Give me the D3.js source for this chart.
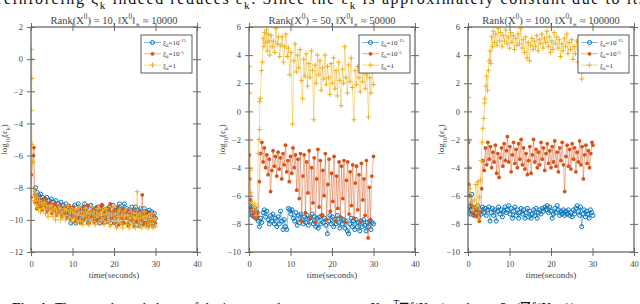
<!DOCTYPE html>
<html>
<head>
<meta charset="utf-8">
<script src="https://cdn.jsdelivr.net/npm/d3@7"></script>
<style>
  body { margin: 0; background: #fff; }
  svg { display: block; font-family: "Liberation Serif", "DejaVu Serif", serif; }
</style>
</head>
<body>
<svg id="chart" width="640" height="304"></svg>
<script>
// ---- data ----
const xTicks = [0, 10, 20, 30, 40];
const rankTitles = ['10', '50', '100'];
const normTitles = ['10000', '50000', '100000'];
const yDomains = [[-12, 2], [-10, 6], [-10, 6]];
const yTicksRank10 = [-12, -10, -8, -6, -4, -2, 0, 2];
const yTicksRank50 = [-10, -8, -6, -4, -2, 0, 2, 4, 6];
const legendLabels = [['10', '-15'], ['10', '-5'], ['1', null]];

// [time, log10(eps)]
const rank10Blue = [[1.1,-8.0],[1.3,-8.6],[1.5,-8.3],[1.7,-9.0],[1.9,-8.5],[2.1,-8.9],[2.3,-8.4],[2.6,-9.1],[2.8,-8.6],[3.0,-9.2],[3.3,-8.7],[3.5,-9.0],[3.8,-8.6],[4.0,-9.3],[4.3,-8.8],[4.6,-9.1],[4.9,-8.7],[5.1,-9.4],[5.4,-8.9],[5.7,-9.2],[6.0,-8.8],[6.3,-9.5],[6.6,-9.0],[6.9,-9.3],[7.2,-8.9],[7.5,-9.6],[7.8,-9.1],[8.1,-9.4],[8.4,-9.0],[8.7,-9.7],[9.0,-9.2],[9.3,-9.6],[9.6,-10.2],[9.9,-9.3],[10.2,-9.8],[10.5,-9.1],[10.8,-10.2],[11.1,-9.4],[11.4,-9.0],[11.7,-9.9],[12.0,-9.3],[12.3,-10.1],[12.6,-9.5],[12.9,-9.0],[13.2,-9.8],[13.5,-9.2],[13.8,-10.2],[14.1,-9.6],[14.4,-9.1],[14.7,-9.9],[15.0,-9.4],[15.3,-10.1],[15.6,-9.3],[15.9,-9.8],[16.2,-9.2],[16.5,-10.2],[16.8,-9.5],[17.1,-9.1],[17.4,-9.9],[17.7,-9.4],[18.0,-10.1],[18.3,-9.3],[18.6,-9.8],[18.9,-9.2],[19.2,-10.2],[19.5,-9.6],[19.8,-9.1],[20.1,-9.9],[20.4,-9.4],[20.7,-10.3],[21.0,-9.5],[21.3,-9.0],[21.6,-9.8],[21.9,-9.3],[22.2,-10.2],[22.5,-9.0],[22.8,-9.7],[23.1,-9.3],[23.4,-10.3],[23.7,-9.5],[24.0,-9.9],[24.3,-9.2],[24.6,-10.1],[24.9,-9.6],[25.2,-9.2],[25.5,-10.3],[25.8,-9.4],[26.1,-9.9],[26.4,-9.3],[26.7,-10.2],[27.0,-9.6],[27.3,-9.3],[27.6,-10.0],[27.9,-9.5],[28.2,-10.3],[28.5,-9.4],[28.8,-9.8],[29.1,-9.5],[29.4,-10.2],[29.7,-9.6],[30.0,-9.9]];
const rank10Orange = [[0.0,-8.6],[0.1,-7.2],[0.6,-6.0],[0.7,-5.5],[0.9,-8.4],[1.0,-8.9],[1.2,-8.5],[1.4,-9.3],[1.6,-8.7],[1.8,-9.0],[1.9,-8.6],[2.1,-9.2],[2.4,-8.8],[2.7,-9.4],[2.9,-8.9],[3.2,-9.1],[3.5,-8.7],[3.8,-9.5],[4.1,-9.0],[4.4,-9.3],[4.7,-8.9],[5.0,-9.6],[5.3,-9.1],[5.6,-9.4],[5.9,-9.0],[6.2,-9.7],[6.5,-9.2],[6.8,-9.5],[7.1,-9.1],[7.4,-9.8],[7.7,-9.3],[8.0,-9.6],[8.3,-9.2],[8.6,-9.9],[8.9,-9.4],[9.2,-9.1],[9.5,-10.0],[9.8,-9.4],[10.1,-9.8],[10.4,-9.2],[10.7,-10.1],[11.0,-9.5],[11.3,-9.9],[11.6,-9.3],[11.9,-10.2],[12.2,-9.6],[12.5,-9.2],[12.8,-10.0],[13.1,-9.4],[13.4,-9.9],[13.7,-9.1],[14.0,-10.2],[14.3,-9.5],[14.6,-9.8],[14.9,-9.3],[15.2,-10.1],[15.5,-9.6],[15.8,-9.2],[16.1,-10.0],[16.4,-9.4],[16.7,-9.9],[17.0,-9.1],[17.3,-10.2],[17.6,-9.5],[17.9,-9.8],[18.2,-9.3],[18.5,-10.1],[18.8,-9.4],[19.1,-9.0],[19.4,-9.9],[19.7,-9.5],[20.0,-10.2],[20.3,-9.4],[20.6,-9.8],[20.9,-9.2],[21.2,-10.3],[21.5,-9.6],[21.8,-9.9],[22.1,-9.3],[22.4,-10.2],[22.7,-9.5],[23.0,-9.9],[23.3,-9.4],[23.6,-10.3],[23.9,-9.6],[24.2,-10.0],[24.5,-9.4],[24.8,-10.4],[25.1,-9.7],[25.4,-10.1],[25.7,-9.5],[26.0,-10.4],[26.3,-9.7],[26.6,-10.0],[26.8,-8.45],[27.0,-10.3],[27.3,-9.6],[27.6,-10.2],[27.9,-9.5],[28.2,-10.4],[28.5,-9.7],[28.8,-10.1],[29.1,-9.6],[29.4,-10.4],[29.7,-9.8],[30.0,-10.2]];
const rank10Yellow = [[0.1,0.6],[0.15,0.0],[0.2,-1.2],[0.1,-3.2],[0.25,-5.3],[0.35,-6.4],[0.5,-6.4],[0.7,-8.2],[0.9,-8.8],[1.1,-8.4],[1.3,-9.1],[1.5,-8.6],[1.8,-9.3],[2.0,-8.8],[2.3,-9.5],[2.6,-9.0],[2.9,-9.3],[3.2,-8.9],[3.5,-9.6],[3.8,-9.1],[4.1,-9.8],[4.4,-9.2],[4.7,-9.5],[5.0,-9.1],[5.3,-9.8],[5.6,-9.3],[5.9,-10.0],[6.2,-9.4],[6.5,-9.7],[6.8,-9.2],[7.1,-10.0],[7.4,-9.5],[7.7,-9.8],[8.0,-9.3],[8.3,-10.0],[8.6,-9.4],[8.9,-9.1],[9.2,-9.9],[9.5,-9.4],[9.8,-10.1],[10.1,-9.5],[10.4,-9.9],[10.7,-9.3],[11.0,-10.2],[11.3,-9.6],[11.6,-9.2],[11.9,-10.1],[12.2,-9.5],[12.5,-10.3],[12.8,-9.7],[13.1,-9.3],[13.4,-10.0],[13.7,-9.5],[14.0,-10.3],[14.3,-9.6],[14.6,-9.2],[14.9,-10.1],[15.2,-9.5],[15.5,-10.3],[15.8,-9.7],[16.1,-9.3],[16.4,-10.2],[16.7,-9.6],[17.0,-10.0],[17.3,-9.4],[17.6,-10.3],[17.9,-9.7],[18.2,-9.3],[18.5,-10.1],[18.8,-9.6],[19.1,-10.4],[19.4,-9.7],[19.7,-9.2],[20.0,-10.1],[20.3,-9.6],[20.6,-10.5],[20.9,-9.8],[21.2,-9.4],[21.5,-10.2],[21.8,-9.7],[22.1,-10.5],[22.4,-9.8],[22.7,-9.4],[23.0,-10.3],[23.3,-9.7],[23.6,-10.5],[23.9,-9.9],[24.2,-9.5],[24.5,-10.3],[24.8,-9.8],[25.1,-10.5],[25.4,-9.6],[25.6,-8.25],[25.8,-9.9],[26.1,-10.4],[26.4,-9.7],[26.7,-10.5],[27.0,-9.9],[27.3,-9.5],[27.6,-10.4],[27.9,-9.8],[28.2,-10.5],[28.5,-9.7],[28.8,-10.2],[29.1,-9.6],[29.4,-10.5],[29.7,-9.9],[30.0,-10.4]];

const rank50Blue = [[0.0,-7.3],[0.2,-6.7],[0.4,-7.0],[0.6,-6.8],[0.8,-7.4],[1.0,-7.0],[1.2,-7.5],[1.4,-6.9],[1.6,-7.3],[1.8,-7.6],[2.0,-7.2],[2.2,-7.8],[2.5,-8.2],[2.8,-7.6],[3.1,-7.9],[3.4,-7.2],[3.7,-7.0],[4.0,-7.5],[4.3,-7.1],[4.6,-7.7],[4.9,-8.0],[5.2,-7.4],[5.5,-7.8],[5.8,-7.3],[6.1,-8.0],[6.4,-7.6],[6.7,-8.2],[7.0,-7.5],[7.3,-8.0],[7.6,-7.1],[7.9,-7.8],[8.2,-8.4],[8.5,-7.7],[8.8,-8.2],[9.1,-8.4],[9.5,-6.9],[9.8,-7.0],[10.1,-7.3],[10.4,-7.0],[10.7,-7.6],[11.0,-7.8],[11.3,-7.2],[11.6,-8.1],[11.9,-7.4],[12.2,-7.9],[12.5,-7.3],[12.8,-7.7],[13.1,-8.0],[13.4,-7.5],[13.7,-7.9],[14.0,-7.4],[14.3,-8.1],[14.6,-7.6],[14.9,-7.8],[15.2,-7.3],[15.5,-8.0],[15.8,-7.5],[16.1,-8.2],[16.4,-7.6],[16.7,-8.3],[17.0,-7.5],[17.3,-8.0],[17.6,-7.4],[17.9,-7.9],[18.2,-7.6],[18.5,-8.1],[18.9,-8.7],[19.2,-7.8],[19.5,-7.4],[19.8,-8.0],[20.1,-7.5],[20.4,-8.2],[20.7,-7.7],[21.0,-8.0],[21.3,-7.4],[21.6,-7.9],[21.9,-8.3],[22.2,-7.6],[22.5,-8.0],[22.8,-7.7],[23.1,-8.3],[23.4,-7.8],[23.7,-8.5],[24.0,-8.7],[24.3,-8.0],[24.6,-7.6],[24.9,-8.2],[25.2,-7.8],[25.5,-8.4],[25.8,-7.7],[26.1,-8.2],[26.4,-7.9],[26.7,-8.5],[27.0,-7.8],[27.3,-8.2],[27.6,-7.7],[27.9,-8.1],[28.2,-8.5],[28.5,-7.9],[28.8,-8.2],[29.1,-7.8],[29.4,-8.4],[29.7,-7.9],[30.0,-8.0]];
const rank50Orange = [[0.1,-3.1],[0.2,-4.8],[0.4,-6.3],[0.7,-7.0],[1.0,-7.4],[1.3,-7.0],[1.6,-7.6],[1.9,-7.2],[2.2,-7.5],[2.5,-5.0],[2.8,-3.0],[3.1,-2.2],[3.4,-3.6],[3.7,-2.6],[4.0,-4.0],[4.3,-3.1],[4.6,-4.5],[4.9,-3.4],[5.2,-5.7],[5.5,-4.2],[5.8,-2.8],[6.1,-3.9],[6.4,-3.2],[6.7,-4.6],[7.0,-2.9],[7.3,-4.1],[7.6,-3.3],[7.9,-4.8],[8.2,-3.0],[8.5,-3.8],[8.8,-2.4],[9.1,-4.3],[9.4,-3.5],[9.7,-5.0],[10.0,-3.2],[10.3,-4.4],[10.6,-2.6],[10.9,-4.0],[11.2,-3.1],[11.5,-5.6],[11.8,-3.4],[12.1,-6.2],[12.4,-3.0],[12.7,-7.8],[13.0,-4.6],[13.3,-3.1],[13.6,-7.2],[13.9,-3.6],[14.2,-5.8],[14.5,-2.8],[14.8,-7.6],[15.1,-4.0],[15.4,-6.5],[15.7,-3.3],[16.0,-7.9],[16.3,-4.8],[16.6,-2.7],[16.9,-6.8],[17.2,-3.5],[17.5,-7.4],[17.8,-4.2],[18.1,-6.0],[18.4,-3.0],[18.7,-7.7],[19.0,-5.2],[19.3,-3.4],[19.6,-7.1],[19.9,-4.4],[20.2,-6.4],[20.5,-3.2],[20.8,-7.8],[21.1,-4.6],[21.4,-6.9],[21.7,-3.6],[22.0,-7.5],[22.3,-3.9],[22.6,-6.2],[22.9,-3.5],[23.2,-7.9],[23.5,-4.9],[23.8,-3.6],[24.1,-7.3],[24.4,-4.3],[24.7,-6.7],[25.0,-3.8],[25.3,-7.6],[25.6,-5.1],[25.9,-3.9],[26.2,-7.0],[26.5,-4.5],[26.8,-7.9],[27.1,-3.7],[27.4,-6.3],[27.7,-4.8],[28.0,-7.4],[28.3,-3.5],[28.7,-9.0],[29.0,-5.4],[29.3,-7.7],[29.6,-4.6],[30.0,-3.2]];
const rank50Yellow = [[0.1,3.2],[0.15,1.3],[0.3,-4.2],[0.5,-5.8],[0.8,-6.5],[1.1,-7.0],[1.4,-6.6],[1.7,-7.4],[2.0,-6.8],[2.2,-3.0],[2.4,-2.0],[2.5,-1.3],[2.6,0.7],[2.7,0.9],[3.0,2.9],[3.2,3.5],[3.4,5.2],[3.6,4.6],[3.8,5.6],[4.0,4.9],[4.2,5.8],[4.4,4.3],[4.6,5.5],[4.8,5.0],[5.0,4.0],[5.3,5.4],[5.6,4.6],[5.9,5.0],[6.2,4.2],[6.5,5.9],[6.8,4.8],[7.1,5.3],[7.4,3.9],[7.7,4.7],[8.0,5.3],[8.3,3.5],[8.6,4.6],[8.9,5.5],[9.2,3.9],[9.5,4.5],[9.8,2.6],[10.1,4.2],[10.5,-0.9],[10.8,3.6],[11.1,4.8],[11.4,2.8],[11.7,4.0],[12.0,3.1],[12.3,4.4],[12.6,2.2],[12.9,0.9],[13.2,3.7],[13.5,2.5],[13.8,4.1],[14.1,1.8],[14.4,3.4],[14.7,2.4],[15.0,4.3],[15.3,2.9],[15.6,-0.6],[15.9,3.3],[16.2,2.0],[16.5,4.0],[16.8,2.6],[17.1,3.6],[17.4,1.5],[17.7,3.1],[18.0,2.3],[18.3,4.0],[18.6,1.9],[18.9,3.2],[19.2,2.4],[19.5,1.2],[19.8,3.4],[20.1,2.0],[20.4,3.8],[20.7,1.6],[21.0,2.9],[21.3,1.1],[21.6,3.5],[21.9,2.2],[22.2,0.4],[22.5,3.0],[22.8,2.0],[23.1,4.6],[23.4,2.4],[23.7,1.3],[24.0,3.3],[24.3,2.1],[24.6,3.8],[24.9,1.7],[25.3,-0.6],[25.6,2.9],[25.9,1.9],[26.2,3.2],[26.5,2.4],[26.8,1.4],[27.1,3.4],[27.4,2.1],[27.7,3.0],[28.0,1.6],[28.4,2.6],[28.8,-0.4],[29.1,2.4],[29.4,1.3],[29.7,2.8],[30.0,1.9]];

const rank100Blue = [[0.0,-6.9],[0.2,-7.2],[0.4,-6.8],[0.6,-7.3],[0.9,-5.9],[1.1,-6.8],[1.4,-7.4],[1.7,-6.9],[2.0,-7.2],[2.3,-6.7],[2.6,-7.5],[2.9,-7.0],[3.2,-7.3],[3.5,-6.8],[3.8,-7.2],[4.1,-6.9],[4.4,-7.4],[4.7,-7.0],[5.0,-6.8],[5.3,-7.8],[5.6,-7.2],[5.9,-6.9],[6.2,-7.4],[6.5,-7.0],[6.8,-7.8],[7.1,-7.1],[7.4,-6.8],[7.7,-7.3],[8.0,-7.0],[8.3,-7.5],[8.6,-7.1],[8.9,-6.8],[9.2,-7.2],[9.5,-7.0],[9.8,-6.7],[10.1,-7.3],[10.4,-6.9],[10.7,-7.6],[11.0,-7.1],[11.3,-6.8],[11.6,-7.4],[11.9,-7.0],[12.2,-7.6],[12.5,-7.2],[12.8,-6.9],[13.1,-7.3],[13.4,-7.0],[13.7,-7.6],[14.0,-7.2],[14.3,-6.9],[14.6,-7.5],[14.9,-7.1],[15.2,-7.6],[15.5,-7.3],[15.8,-7.0],[16.1,-7.4],[16.4,-6.9],[16.7,-7.6],[17.0,-7.2],[17.3,-7.0],[17.6,-7.3],[17.9,-6.9],[18.2,-7.1],[18.5,-6.8],[18.8,-7.0],[19.1,-6.7],[19.4,-7.2],[19.7,-6.8],[20.0,-7.1],[20.3,-7.6],[20.6,-7.3],[20.9,-6.9],[21.2,-7.2],[21.5,-6.7],[21.8,-7.0],[22.1,-7.4],[22.4,-7.1],[22.7,-7.3],[23.0,-7.0],[23.3,-7.4],[23.6,-7.1],[23.9,-7.3],[24.2,-7.0],[24.5,-7.4],[24.8,-7.2],[25.1,-7.5],[25.4,-7.0],[25.7,-7.3],[26.0,-6.9],[26.3,-6.7],[26.6,-7.1],[26.9,-7.4],[27.1,-6.8],[27.4,-8.2],[27.7,-7.3],[28.0,-7.0],[28.3,-7.5],[28.6,-7.1],[28.9,-7.3],[29.2,-7.6],[29.5,-7.0],[29.8,-7.2],[30.1,-7.4]];
const rank100Orange = [[0.1,-2.2],[0.15,-4.0],[0.2,-5.2],[0.4,-6.0],[0.7,-6.6],[1.0,-7.2],[1.3,-6.8],[1.6,-7.4],[1.9,-7.0],[2.2,-7.5],[2.5,-7.1],[2.7,-7.8],[3.0,-7.2],[3.3,-5.5],[3.6,-3.5],[3.9,-4.2],[4.2,-2.6],[4.5,-3.8],[4.8,-2.2],[5.1,-3.4],[5.4,-2.5],[5.7,-4.0],[6.0,-2.9],[6.3,-3.6],[6.6,-2.4],[6.9,-4.4],[7.2,-3.0],[7.5,-4.7],[7.8,-3.3],[8.1,-2.6],[8.4,-3.9],[8.7,-2.3],[9.0,-3.5],[9.3,-2.8],[9.5,-1.8],[9.8,-3.6],[10.1,-2.5],[10.4,-4.3],[10.7,-3.1],[11.0,-2.2],[11.3,-3.7],[11.6,-2.7],[11.9,-4.0],[12.2,-2.3],[12.5,-3.4],[12.8,-2.0],[13.1,-3.8],[13.4,-2.6],[13.7,-4.1],[14.0,-3.0],[14.3,-4.5],[14.6,-3.5],[14.9,-2.5],[15.2,-4.4],[15.5,-3.1],[15.8,-2.0],[16.1,-3.6],[16.4,-2.7],[16.7,-4.0],[17.0,-2.9],[17.3,-3.8],[17.6,-2.2],[17.9,-3.4],[18.2,-2.6],[18.5,-4.2],[18.8,-3.0],[19.1,-2.3],[19.4,-3.7],[19.7,-2.8],[20.0,-4.0],[20.3,-2.5],[20.6,-3.6],[20.9,-2.1],[21.2,-3.9],[21.5,-2.9],[21.8,-4.3],[22.1,-2.6],[22.4,-3.5],[22.7,-2.2],[23.0,-3.8],[23.3,-5.7],[23.6,-3.2],[23.9,-2.4],[24.2,-3.9],[24.5,-2.7],[24.8,-4.1],[25.1,-2.3],[25.4,-3.4],[25.7,-2.6],[26.0,-4.3],[26.3,-2.9],[26.6,-3.6],[26.9,-2.1],[27.2,-3.8],[27.5,-2.5],[27.8,-4.8],[28.1,-3.1],[28.4,-2.4],[28.7,-3.7],[29.0,-2.8],[29.3,-4.0],[29.6,-3.0],[29.9,-2.2],[30.1,-2.4]];
const rank100Yellow = [[0.1,3.8],[0.12,1.0],[0.15,-2.0],[0.2,-4.0],[0.5,-5.5],[0.8,-6.4],[1.2,-7.0],[1.6,-6.3],[1.9,-5.2],[2.1,-6.8],[2.4,-5.0],[2.6,-7.6],[2.8,-6.1],[3.0,-4.9],[3.2,-3.5],[3.4,-2.2],[3.6,-1.2],[3.8,-0.5],[4.0,0.6],[4.1,0.9],[4.3,1.8],[4.5,2.5],[4.7,1.5],[4.9,2.9],[5.1,3.6],[5.3,4.3],[5.5,3.4],[5.7,5.3],[5.9,4.6],[6.1,5.7],[6.4,4.9],[6.7,5.5],[7.0,4.7],[7.3,5.9],[7.6,5.0],[7.9,5.6],[8.2,4.6],[8.5,5.4],[8.8,5.0],[9.1,5.8],[9.4,4.8],[9.7,5.3],[10.0,4.5],[10.3,5.6],[10.6,4.9],[10.9,5.4],[11.2,4.4],[11.5,5.2],[11.8,4.7],[12.1,5.5],[12.4,4.8],[12.7,5.9],[13.0,4.5],[13.3,5.1],[13.6,4.2],[13.9,5.3],[14.2,3.8],[14.5,4.9],[14.8,3.6],[15.1,4.7],[15.4,5.2],[15.7,4.4],[16.0,5.0],[16.3,4.6],[16.6,5.4],[16.9,4.3],[17.2,5.1],[17.5,4.8],[17.8,5.5],[18.1,4.5],[18.4,5.2],[18.7,4.9],[19.0,5.7],[19.3,4.6],[19.6,5.3],[19.9,4.2],[20.2,5.0],[20.5,4.4],[20.8,5.6],[21.1,4.8],[21.4,5.3],[21.7,4.5],[22.0,5.1],[22.3,3.9],[22.6,4.8],[22.9,4.3],[23.2,5.2],[23.5,4.6],[23.8,5.5],[24.1,4.1],[24.4,4.9],[24.7,4.4],[25.0,5.1],[25.3,3.7],[25.6,4.6],[25.9,4.1],[26.2,5.0],[26.5,3.5],[26.8,4.4],[27.1,3.8],[27.4,2.3],[27.7,4.2],[28.0,3.6],[28.3,4.9],[28.6,4.0],[28.9,4.5],[29.2,3.4],[29.5,4.6],[29.8,4.0],[30.1,5.0]];

const panelSeries = [
  [rank10Blue, rank10Orange, rank10Yellow],
  [rank50Blue, rank50Orange, rank50Yellow],
  [rank100Blue, rank100Orange, rank100Yellow],
];
const panelYTicks = [yTicksRank10, yTicksRank50, yTicksRank50];

// ---- layout / style ----
const colors = ['#0072BD', '#D95319', '#EDB120'];
const panelLeft = [31, 249, 468];
const axW = 166;
const axTop = 27;
const axH = 225;
const legendLeft = [141, 359, 578];
const axisColor = '#6a6a6a';
const textColor = '#444';

const svg = d3.select('#chart');

// text with sub / superscripts: parts = [[string, 'sub'|'sup'|null], ...]
const rich = (sel, parts, size) => {
  let shift = 0;
  parts.forEach(([s, kind]) => {
    const target = kind === 'sub' ? size * 0.3 : kind === 'sup' ? -size * 0.4 : 0;
    sel.append('tspan')
      .attr('dy', target - shift)
      .attr('font-size', kind ? size * 0.7 : size)
      .text(s);
    shift = target;
  });
};

const drawMarker = (g, kind, x, y, color) => {
  if (kind === 0) {
    g.append('circle').attr('cx', x).attr('cy', y).attr('r', 2)
      .attr('fill', 'none').attr('stroke', color).attr('stroke-width', 1);
  } else if (kind === 1) {
    g.append('circle').attr('cx', x).attr('cy', y).attr('r', 1.9)
      .attr('fill', color);
  } else {
    g.append('path').attr('d', `M${x - 2.6},${y}H${x + 2.6}M${x},${y - 2.6}V${y + 2.6}`)
      .attr('stroke', color).attr('stroke-width', 1);
  }
};

// page text around the figure (cut by the crop)
const topText = svg.append('text').attr('x', -3).attr('y', 4)
  .attr('font-size', 16).attr('fill', '#111')
  .attr('textLength', 648).attr('lengthAdjust', 'spacing');
rich(topText, [['reinforcing ξ', null], ['k', 'sub'], [' indeed reduces ε', null], ['k', 'sub'],
  ['. Since the ε', null], ['k', 'sub'], [' is approximately constant due to its', null]], 16);

const bottomText = svg.append('text').attr('x', 12).attr('y', 312.5)
  .attr('font-size', 14).attr('fill', '#111');
bottomText.append('tspan').attr('font-weight', 'bold').text('Fig. 4');
bottomText.append('tspan').attr('x', 55).text('The error boundedness of the inner product');
bottomText.append('tspan').attr('x', 370).text('X');
rich(bottomText, [['k-1', 'sub'], ['T', 'sup'], ['∇f(X', null], ['k-1', 'sub'], [')  and', null]], 14);
bottomText.append('tspan').attr('x', 500).text('ξ');
rich(bottomText, [['k', 'sub'], [' (∇f(X', null], ['k-1', 'sub'], ['))', null]], 15);

panelSeries.forEach((seriesList, p) => {
  const left = panelLeft[p];
  const x = d3.scaleLinear().domain([0, 40]).range([left, left + axW]);
  const y = d3.scaleLinear().domain(yDomains[p]).range([axTop + axH, axTop]);
  const g = svg.append('g');

  g.append('clipPath').attr('id', `clip${p}`)
    .append('rect').attr('x', left).attr('y', axTop).attr('width', axW).attr('height', axH);

  const plot = g.append('g').attr('clip-path', `url(#clip${p})`);
  const line = d3.line().x(d => x(d[0])).y(d => y(d[1]));

  seriesList.forEach((data, s) => {
    plot.append('path')
      .datum(data)
      .attr('d', line)
      .attr('fill', 'none')
      .attr('stroke', colors[s])
      .attr('stroke-opacity', 0.45)
      .attr('stroke-width', 1);
    const mg = plot.append('g');
    data.forEach(d => drawMarker(mg, s, x(d[0]), y(d[1]), colors[s]));
  });

  // axes (ticks cross the box lines)
  const styleAxis = (ag, horizontal) => {
    ag.select('.domain').remove();
    ag.selectAll('.tick line')
      .attr('stroke', axisColor)
      .attr('stroke-width', 1)
      .attr(horizontal ? 'y1' : 'x1', -4)
      .attr(horizontal ? 'y2' : 'x2', 4);
    ag.selectAll('.tick text')
      .attr('fill', textColor)
      .attr('font-size', 8.5)
      .attr('font-family', '"Liberation Serif", serif');
  };

  g.append('g').attr('transform', `translate(0,${axTop + axH})`)
    .call(d3.axisBottom(x).tickValues(xTicks).tickSize(4).tickPadding(5))
    .call(ag => styleAxis(ag, true));
  g.append('g').attr('transform', `translate(0,${axTop})`)
    .call(d3.axisTop(x).tickValues(xTicks).tickFormat(''))
    .call(ag => styleAxis(ag, true));
  g.append('g').attr('transform', `translate(${left},0)`)
    .call(d3.axisLeft(y).tickValues(panelYTicks[p]).tickSize(4).tickPadding(4))
    .call(ag => styleAxis(ag, false));
  g.append('g').attr('transform', `translate(${left + axW},0)`)
    .call(d3.axisRight(y).tickValues(panelYTicks[p]).tickFormat(''))
    .call(ag => styleAxis(ag, false));

  g.append('rect')
    .attr('x', left).attr('y', axTop).attr('width', axW).attr('height', axH)
    .attr('fill', 'none').attr('stroke', axisColor).attr('stroke-width', 1.3);

  // title
  const title = g.append('text')
    .attr('x', left + axW / 2).attr('y', 23.5)
    .attr('text-anchor', 'middle').attr('fill', textColor);
  rich(title, [['Rank(', null], ['X', null], ['0', 'sup'], [') = ' + rankTitles[p] + ', ‖', null],
    ['X', null], ['0', 'sup'], ['‖', null], ['∗', 'sub'], [' ≈ ' + normTitles[p], null]], 10.5);

  // x label
  g.append('text')
    .attr('x', left + axW / 2).attr('y', 278)
    .attr('text-anchor', 'middle').attr('fill', textColor).attr('font-size', 9)
    .text('time(seconds)');

  // y label
  const yl = g.append('text')
    .attr('transform', `translate(${left - 24},${axTop + axH / 2}) rotate(-90)`)
    .attr('text-anchor', 'middle').attr('fill', textColor);
  rich(yl, [['log', null], ['10', 'sub'], ['(ε', null], ['k', 'sub'], [')', null]], 9);

  // legend
  const lx = legendLeft[p];
  const lg = g.append('g');
  lg.append('rect').attr('x', lx).attr('y', 35).attr('width', 51).attr('height', 38)
    .attr('fill', '#fff').attr('stroke', '#333').attr('stroke-width', 0.8);
  legendLabels.forEach((lab, s) => {
    const ly = 42.5 + s * 11.3;
    lg.append('line').attr('x1', lx + 3).attr('x2', lx + 20).attr('y1', ly).attr('y2', ly)
      .attr('stroke', colors[s]).attr('stroke-opacity', 0.5).attr('stroke-width', 1);
    drawMarker(lg, s, lx + 11.5, ly, colors[s]);
    const lt = lg.append('text').attr('x', lx + 22).attr('y', ly + 2.5).attr('fill', '#333');
    const parts = [['ξ', null], ['k', 'sub'], ['=' + lab[0], null]];
    if (lab[1]) parts.push([lab[1], 'sup']);
    rich(lt, parts, 7);
  });
});
</script>
</body>
</html>
